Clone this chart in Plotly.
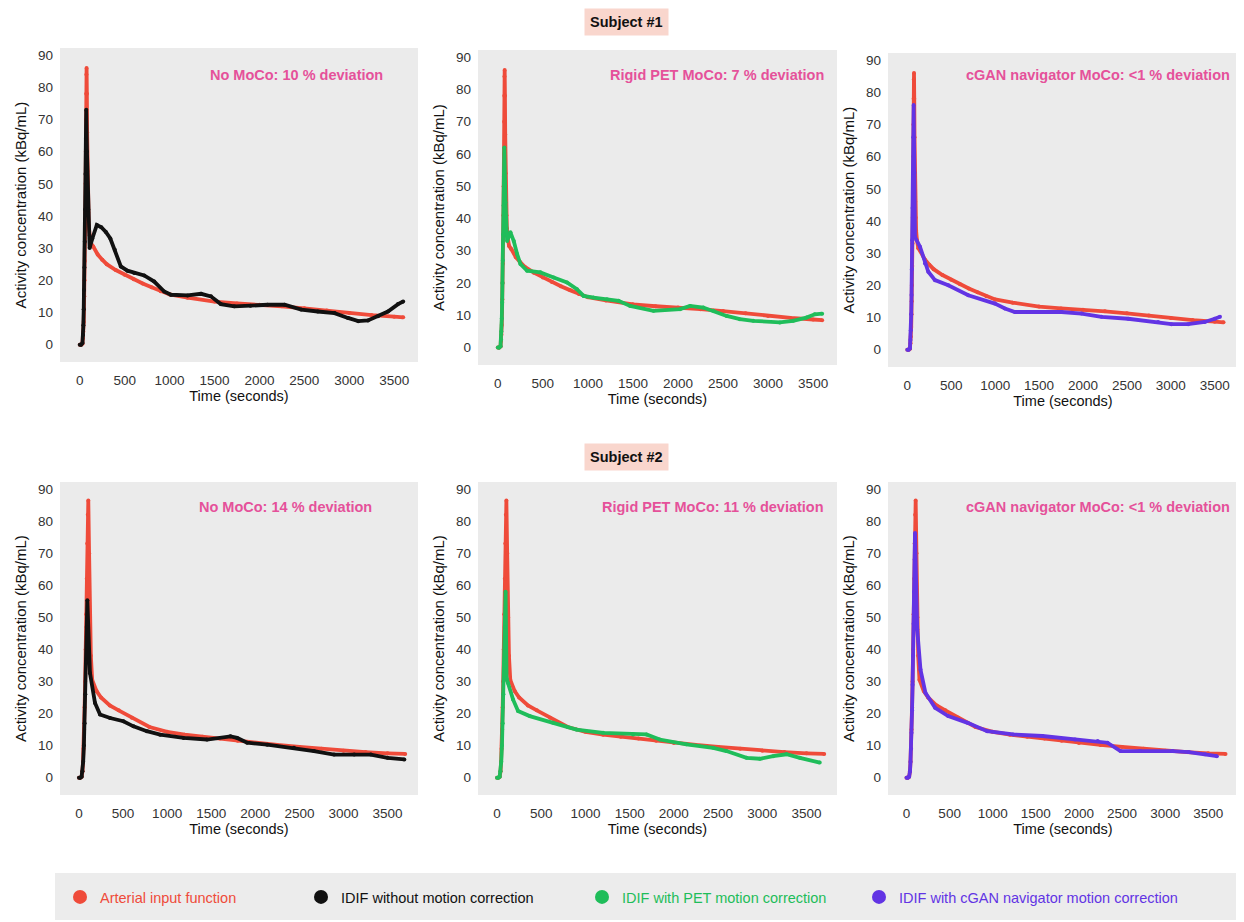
import plotly.graph_objects as go

# ---------------- data ----------------
# Subject 1
s1_aif_t = [0, 15, 30, 36, 40, 44, 47, 50, 53, 56, 59, 62, 65, 68, 70, 72, 74, 76, 79, 82, 86, 90, 95, 100, 110, 125,
            150, 200, 250, 300, 400, 500, 600, 700, 800, 900, 1000, 1200, 1500, 1750, 2000, 2250, 2500, 2750, 3000,
            3250, 3500, 3600]
s1_aif_y = [0, 0, 0.3, 2, 4, 7, 11, 15, 20, 26, 33, 41, 50, 60, 70, 78, 84, 86, 78, 66, 54, 46, 41, 37, 34, 31.5,
            30.5, 28, 26.4, 25, 23.2, 21.7, 20.3, 19, 17.8, 16.6, 15.6, 14.6, 13.4, 12.8, 12.4, 11.9, 11.3, 10.6, 9.8,
            9.2, 8.7, 8.5]

s1_nomoco_t = [0, 15, 30, 36, 40, 44, 48, 52, 56, 60, 64, 68, 72, 80, 95, 110, 140, 190, 240, 290, 340, 390, 457,
               530, 606, 717, 829, 940, 1015, 1200, 1350, 1460, 1570, 1720, 1900, 2090, 2280, 2465, 2650, 2836, 2985,
               3100, 3208, 3320, 3430, 3543, 3600]
s1_nomoco_y = [0, 0, 0.5, 3, 6, 11, 17, 24, 32, 42, 53, 64, 73, 60, 42, 30, 33, 37.2, 36.5, 35, 33, 29.5, 24.3,
               23, 22.3, 21.5, 19.6, 16.5, 15.5, 15.3, 15.8, 15, 12.6, 11.9, 12.1, 12.4, 12.4, 10.9, 10.3, 9.8, 8.3,
               7.3, 7.5, 8.8, 10.3, 12.6, 13.4]

s1_pet_t = [0, 15, 30, 36, 40, 44, 48, 52, 56, 60, 64, 68, 72, 85, 103, 140, 177, 214, 251, 325, 472, 620, 768, 878,
            952, 1063, 1211, 1340, 1469, 1728, 2023, 2134, 2281, 2392, 2540, 2687, 2835, 3130, 3278, 3426, 3518, 3600]
s1_pet_y = [0, 0, 0.4, 2.5, 5, 9, 14, 20, 27, 35, 44, 53, 62, 45, 33, 35.7, 33, 29, 25.9, 23.8, 23.3, 21.7, 20.2,
            18.1, 16, 15.5, 15, 14.5, 12.9, 11.4, 11.9, 12.9, 12.4, 11.4, 9.8, 8.8, 8.3, 7.8, 8.3, 9.3, 10.3, 10.5]

s1_cgan_t = [0, 15, 30, 36, 40, 44, 48, 52, 56, 60, 64, 68, 72, 80, 87, 144, 201, 239, 315, 466, 694, 997, 1111,
             1225, 1376, 1756, 1983, 2211, 2514, 2855, 3007, 3197, 3386, 3500, 3560]
s1_cgan_y = [0, 0, 0.4, 3, 6, 11, 17, 25, 34, 44, 55, 66, 76, 55, 35, 32, 26.8, 24.2, 21.6, 20, 16.9, 14.3, 12.8,
             11.7, 11.7, 11.7, 11.2, 10.2, 9.6, 8.6, 7.9, 7.9, 8.6, 9.6, 10.2]

# Subject 2
s2_aif_t = [0, 15, 30, 40, 46, 52, 58, 64, 70, 76, 82, 88, 94, 100, 106, 115, 125, 135, 150, 200, 250, 350, 450, 600,
            800, 1000, 1200, 1400, 1600, 1800, 2000, 2250, 2500, 2750, 3000, 3250, 3500, 3700]
s2_aif_y = [0, 0, 0.3, 2, 5, 9, 15, 22, 30, 40, 51, 62, 73, 82, 86.4, 70, 50, 38, 30.5, 27, 25, 22.5, 21, 18.7,
            15.8, 14.3, 13.4, 12.8, 12.2, 11.5, 10.8, 10.2, 9.6, 9.0, 8.4, 8.0, 7.6, 7.4]

s2_nomoco_t = [0, 15, 30, 40, 48, 56, 64, 72, 80, 88, 95, 125, 182, 239, 353, 504, 618, 770, 921, 1187, 1452, 1718,
               1794, 1907, 2135, 2438, 2666, 2893, 3121, 3310, 3500, 3690]
s2_nomoco_y = [0, 0, 0.3, 2, 5, 10, 17, 26, 36, 47, 55.3, 32.6, 23.3, 19.7, 18.6, 17.6, 16, 14.5, 13.4, 12.4, 11.9,
               12.9, 12.4, 10.9, 10.3, 9.3, 8.3, 7.2, 7.2, 7.2, 6.2, 5.7]

s2_pet_t = [0, 15, 30, 40, 48, 56, 64, 72, 80, 88, 97, 108, 124, 181, 238, 370, 634, 898, 1200, 1539, 1690, 1841,
            2142, 2444, 2595, 2822, 2973, 3123, 3274, 3425, 3650]
s2_pet_y = [0, 0, 0.3, 2, 5, 10, 17, 26, 36, 47, 58, 31, 29.5, 24.4, 20.8, 19.2, 17.1, 15, 14, 13.5, 13.5, 11.9,
            10.4, 9.3, 8.3, 6.2, 5.9, 6.7, 7.3, 6.2, 4.7]

s2_cgan_t = [0, 15, 30, 40, 46, 52, 58, 64, 70, 76, 82, 88, 94, 98, 124, 162, 219, 332, 483, 709, 935, 1237, 1577,
             1954, 2218, 2331, 2482, 2708, 3086, 3274, 3463, 3600]
s2_cgan_y = [0, 0, 0.3, 2, 5, 9, 14, 21, 29, 38, 48, 58, 68, 76.3, 46.2, 33.7, 26.5, 21.8, 19.2, 17.1, 14.5, 13.5,
             13, 11.9, 11.4, 10.9, 8.3, 8.3, 8.3, 8, 7.3, 6.7]

x_ticks = [0, 500, 1000, 1500, 2000, 2500, 3000, 3500]
y_ticks = [0, 10, 20, 30, 40, 50, 60, 70, 80, 90]

panel_labels = ["No MoCo: 10 % deviation", "Rigid PET MoCo: 7 % deviation",
                "cGAN navigator MoCo: <1 % deviation",
                "No MoCo: 14 % deviation", "Rigid PET MoCo: 11 % deviation",
                "cGAN navigator MoCo: <1 % deviation"]
subject_labels = ["Subject #1", "Subject #2"]
legend_names = ["Arterial input function", "IDIF without motion correction",
                "IDIF with PET motion correction", "IDIF with cGAN navigator motion correction"]

# ---------------- styling ----------------
OFF = 8                      # page body margin offset
W, H = 1244 - OFF, 922 - OFF


def px(x):
    return (x - OFF) / W


def py(y):
    return 1 - (y - OFF) / H


RED = "#ef4b3a"
BLACK = "#111111"
GREEN = "#1fbd5a"
PURPLE = "#6234e4"
PINK = "#e5519a"
FONT = "Liberation Sans, Arial, sans-serif"
colors = [RED, BLACK, GREEN, PURPLE]

# panel pixel boxes in reference page coords: (x0, x1, ytop, ybottom)
boxes = [(60, 418, 48, 362), (478, 837, 50, 365), (888, 1238, 53, 367),
         (60, 418, 482, 795), (478, 837, 482, 795), (888, 1238, 482, 795)]
xranges = [[-220, 3765]] * 3 + [[-215, 3845]] * 3
yrange = [-5.4, 92.2]
label_pos = [(385, 75), (826, 75), (1232, 75), (374, 507), (826, 507), (1232, 507)]

series = [
    (s1_aif_t, s1_aif_y, s1_nomoco_t, s1_nomoco_y, BLACK),
    (s1_aif_t, s1_aif_y, s1_pet_t, s1_pet_y, GREEN),
    (s1_aif_t, s1_aif_y, s1_cgan_t, s1_cgan_y, PURPLE),
    (s2_aif_t, s2_aif_y, s2_nomoco_t, s2_nomoco_y, BLACK),
    (s2_aif_t, s2_aif_y, s2_pet_t, s2_pet_y, GREEN),
    (s2_aif_t, s2_aif_y, s2_cgan_t, s2_cgan_y, PURPLE),
]

fig = go.Figure()
layout = {}
annotations = []

for i, ((x0, x1, yt, yb), (at, ay, it, iy, ic)) in enumerate(zip(boxes, series)):
    n = i + 1
    xa = "x" if n == 1 else f"x{n}"
    ya = "y" if n == 1 else f"y{n}"
    fig.add_trace(go.Scatter(x=at, y=ay, mode="lines+markers", xaxis=xa, yaxis=ya,
                             line=dict(color=RED, width=3.8), marker=dict(color=RED, size=4),
                             showlegend=False, hoverinfo="skip"))
    fig.add_trace(go.Scatter(x=it, y=iy, mode="lines+markers", xaxis=xa, yaxis=ya,
                             line=dict(color=ic, width=3.8), marker=dict(color=ic, size=4),
                             showlegend=False, hoverinfo="skip"))
    xkey = "xaxis" if n == 1 else f"xaxis{n}"
    ykey = "yaxis" if n == 1 else f"yaxis{n}"
    layout[xkey] = dict(domain=[px(x0), px(x1)], anchor=ya, range=xranges[i], tickvals=x_ticks,
                        showgrid=False, zeroline=False, showline=False, ticks="",
                        ticklabelstandoff=8, automargin=False,
                        tickfont=dict(size=13.5, color="#333333", family=FONT),
                        title=dict(text="Time (seconds)", standoff=4,
                                   font=dict(size=14.5, color="#111111", family=FONT)))
    layout[ykey] = dict(domain=[py(yb), py(yt)], anchor=xa, range=yrange, tickvals=y_ticks,
                        showgrid=False, zeroline=False, showline=False, ticks="",
                        ticklabelstandoff=6, automargin=False,
                        tickfont=dict(size=13.5, color="#333333", family=FONT),
                        title=dict(text="Activity concentration (kBq/mL)", standoff=7,
                                   font=dict(size=15, color="#111111", family=FONT)))
    # gray plot background
    fig.add_shape(type="rect", xref="paper", yref="paper", x0=px(x0), x1=px(x1),
                  y0=py(yb), y1=py(yt), fillcolor="#ebebeb", line=dict(width=0), layer="below")
    lx, ly = label_pos[i]
    annotations.append(dict(text=f"<b>{panel_labels[i]}</b>", xref="paper", yref="paper",
                            x=px(lx), y=py(ly), xanchor="right", yanchor="middle", showarrow=False,
                            font=dict(size=14.5, color=PINK, family=FONT)))

# subject labels
for txt, (cx, cy) in zip(subject_labels, [(626, 22), (626, 457)]):
    annotations.append(dict(text=f"<b>{txt}</b>", xref="paper", yref="paper", x=px(cx), y=py(cy),
                            xanchor="center", yanchor="middle", showarrow=False, bgcolor="#f9d6cd",
                            borderpad=5, font=dict(size=14.5, color="#111111", family=FONT)))

# legend background
fig.add_shape(type="rect", xref="paper", yref="paper", x0=px(55), x1=px(1240),
              y0=py(920), y1=py(873), fillcolor="#ececec", line=dict(width=0), layer="below")

legend_keys = ["legend", "legend2", "legend3", "legend4"]
dot_x = [80, 321, 602, 879]
for name, c, lk, dx in zip(legend_names, colors, legend_keys, dot_x):
    fig.add_trace(go.Scatter(x=[None], y=[None], mode="markers", name=name, legend=lk,
                             marker=dict(color=c, size=14), showlegend=True))
    layout[lk] = dict(x=px(dx - 20), y=py(897), xanchor="left", yanchor="middle",
                      bgcolor="rgba(0,0,0,0)", orientation="h",
                      font=dict(size=14.5, color=c, family=FONT))

fig.update_layout(width=W, height=H, margin=dict(l=0, r=0, t=0, b=0),
                  paper_bgcolor="white", plot_bgcolor="rgba(0,0,0,0)",
                  font=dict(family=FONT), annotations=annotations, **layout)

fig.write_html("out.html")
